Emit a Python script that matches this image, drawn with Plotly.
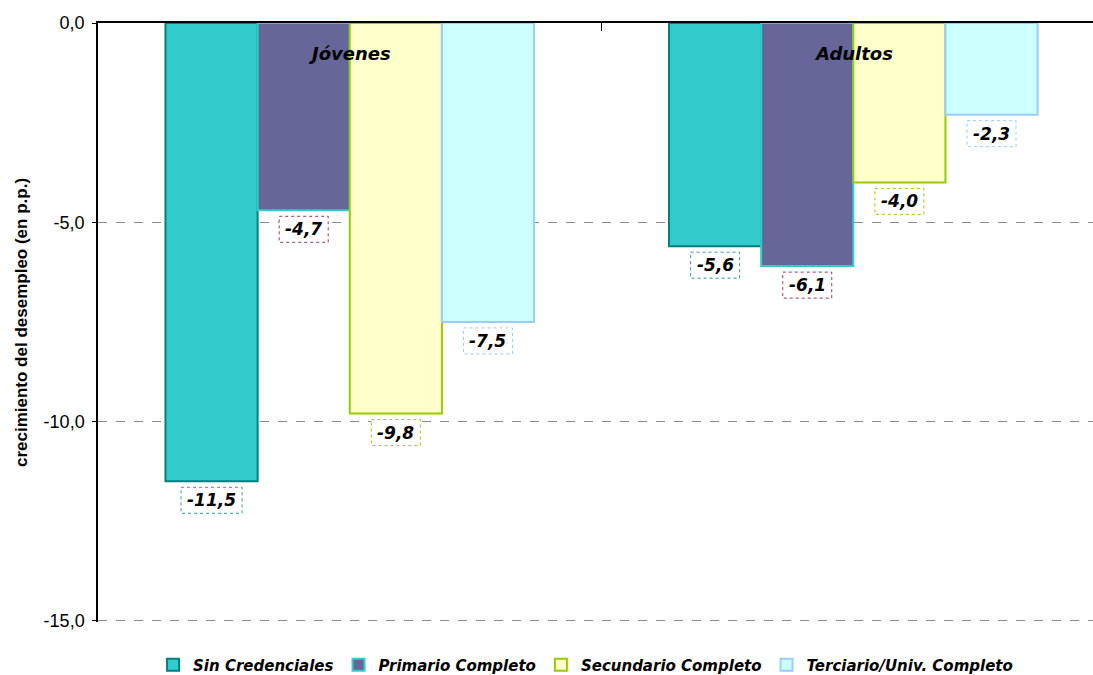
import plotly.graph_objects as go

# Change in unemployment (percentage points) by education level and age group
groups = ["Jóvenes", "Adultos"]
series_names = ["Sin Credenciales", "Primario Completo", "Secundario Completo", "Terciario/Univ. Completo"]
sin_credenciales = [-11.5, -5.6]
primario = [-4.7, -6.1]
secundario = [-9.8, -4.0]
terciario = [-7.5, -2.3]
series_values = [sin_credenciales, primario, secundario, terciario]
y_ticks = [0, -5, -10, -15]

fills = ["#33CCCC", "#666699", "#FFFFCC", "#CCFFFF"]
edges = ["#008080", "#33CCCC", "#99CC00", "#99CCFF"]
label_edges = ["#339999", "#993366", "#99CC00", "#99CCFF"]

BOLD_FONT = "DejaVu Sans"
SANS = "Liberation Sans"
BARGAP = 0.268


def fmt(v):
    return f"{v:.1f}".replace(".", ",")


fig = go.Figure()
for name, vals, fc, ec in zip(series_names, series_values, fills, edges):
    fig.add_trace(go.Bar(
        x=groups, y=vals, name=name,
        marker=dict(color=fc, line=dict(color=ec, width=2)),
    ))

# value labels in dashed boxes, placed under the end of each bar
n = len(series_values)
for i, (vals, lc) in enumerate(zip(series_values, label_edges)):
    for g, v in enumerate(vals):
        xc = g + (-0.5 + (i + 0.5) / n) * (1 - BARGAP)
        txt = fmt(v)
        w = 12 * len(txt) + 1
        fig.add_shape(
            type="rect", xref="x", yref="y",
            xsizemode="pixel", ysizemode="pixel",
            xanchor=xc, yanchor=v,
            x0=-w / 2, x1=w / 2, y0=-6, y1=-32,
            line=dict(color=lc, width=1, dash="dot"),
            fillcolor="white", layer="above",
        )
        fig.add_annotation(
            x=xc, y=v, xref="x", yref="y", text=txt, showarrow=False,
            yanchor="middle", yshift=-19,
            font=dict(family=BOLD_FONT, size=17, color="black", weight="bold", style="italic"),
        )

# group headings
for g, name in enumerate(groups):
    fig.add_annotation(
        x=g, y=0, xref="x", yref="y", text=name, showarrow=False,
        yanchor="middle", yshift=-30,
        font=dict(family=BOLD_FONT, size=18, color="black", weight="bold", style="italic"),
    )

fig.update_layout(
    width=1093, height=675,
    margin=dict(l=98, r=0, t=23, b=53, autoexpand=False),
    paper_bgcolor="white", plot_bgcolor="white",
    barmode="group", bargap=BARGAP, bargroupgap=0,
    showlegend=True,
    legend=dict(
        orientation="h", x=0.49, xanchor="center",
        yref="container", y=0.0148, yanchor="middle",
        font=dict(family=BOLD_FONT, size=15, color="black", weight="bold", style="italic"),
        itemwidth=30, traceorder="normal",
    ),
    xaxis=dict(
        side="top", range=[-0.5, 1.476],
        showticklabels=False, showline=True, linecolor="black", linewidth=2,
        ticks="inside", tickson="boundaries", ticklen=8, tickcolor="black",
        showgrid=False, zeroline=False,
    ),
    yaxis=dict(
        range=[-15.03, 0], tickvals=y_ticks, ticktext=[fmt(t) for t in y_ticks],
        showline=True, linecolor="black", linewidth=1.5,
        ticks="outside", ticklen=4, tickcolor="black", ticklabelstandoff=4,
        showgrid=True, gridcolor="#8c8c8c", griddash="dash", gridwidth=1,
        zeroline=False,
        tickfont=dict(family=SANS, size=18, color="black"),
        title=dict(
            text="crecimiento del desempleo (en p.p.)", standoff=12,
            font=dict(family=SANS, size=17, color="black", weight="bold"),
        ),
    ),
)

fig.write_html("out.html")
